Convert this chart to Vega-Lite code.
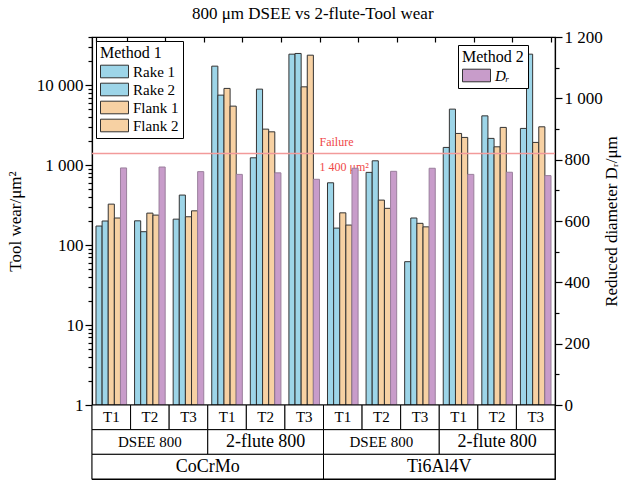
{
  "$schema": "https://vega.github.io/schema/vega-lite/v6.json",
  "padding": {"left": 5, "right": 5, "top": 5, "bottom": 0},
  "config": {
    "font": "Liberation Serif",
    "view": {"stroke": "black", "strokeWidth": 1.2},
    "axis": {"labelFont": "Liberation Serif", "titleFont": "Liberation Serif", "labelFontSize": 17, "titleFontSize": 17, "titleFontWeight": "normal", "labelColor": "black", "titleColor": "black", "domainColor": "black", "tickColor": "black", "grid": false, "domainWidth": 1.2, "tickWidth": 1.2},
    "legend": {"strokeColor": "black", "fillColor": "white", "padding": 4, "titleFontSize": 16, "labelFontSize": 15, "titleFont": "Liberation Serif", "labelFont": "Liberation Serif", "titleFontWeight": "normal", "titleColor": "black", "labelColor": "black", "symbolType": "M-1,-0.9L3,-0.9L3,0.9L-1,0.9Z", "symbolSize": 196, "labelOffset": 18, "symbolStrokeColor": "#333", "symbolStrokeWidth": 1, "symbolOpacity": 1, "rowPadding": 1, "titlePadding": 3}
  },
  "title": {"text": "800 μm DSEE vs 2-flute-Tool wear", "fontSize": 17, "fontWeight": "normal", "font": "Liberation Serif", "anchor": "middle", "offset": 4, "color": "black"},
  "datasets": {
    "bars": [
      {"group": "CoCrMo|DSEE 800|T1", "series": "Rake 1", "value": 173},
      {"group": "CoCrMo|DSEE 800|T1", "series": "Rake 2", "value": 200},
      {"group": "CoCrMo|DSEE 800|T1", "series": "Flank 1", "value": 325},
      {"group": "CoCrMo|DSEE 800|T1", "series": "Flank 2", "value": 218},
      {"group": "CoCrMo|DSEE 800|T1", "series": "Dᵣ", "value": 773},
      {"group": "CoCrMo|DSEE 800|T2", "series": "Rake 1", "value": 201},
      {"group": "CoCrMo|DSEE 800|T2", "series": "Rake 2", "value": 147},
      {"group": "CoCrMo|DSEE 800|T2", "series": "Flank 1", "value": 251},
      {"group": "CoCrMo|DSEE 800|T2", "series": "Flank 2", "value": 237},
      {"group": "CoCrMo|DSEE 800|T2", "series": "Dᵣ", "value": 776},
      {"group": "CoCrMo|DSEE 800|T3", "series": "Rake 1", "value": 211},
      {"group": "CoCrMo|DSEE 800|T3", "series": "Rake 2", "value": 422},
      {"group": "CoCrMo|DSEE 800|T3", "series": "Flank 1", "value": 226},
      {"group": "CoCrMo|DSEE 800|T3", "series": "Flank 2", "value": 268},
      {"group": "CoCrMo|DSEE 800|T3", "series": "Dᵣ", "value": 761},
      {"group": "CoCrMo|2-flute 800|T1", "series": "Rake 1", "value": 17280},
      {"group": "CoCrMo|2-flute 800|T1", "series": "Rake 2", "value": 7500},
      {"group": "CoCrMo|2-flute 800|T1", "series": "Flank 1", "value": 9100},
      {"group": "CoCrMo|2-flute 800|T1", "series": "Flank 2", "value": 5465},
      {"group": "CoCrMo|2-flute 800|T1", "series": "Dᵣ", "value": 752},
      {"group": "CoCrMo|2-flute 800|T2", "series": "Rake 1", "value": 1234},
      {"group": "CoCrMo|2-flute 800|T2", "series": "Rake 2", "value": 8913},
      {"group": "CoCrMo|2-flute 800|T2", "series": "Flank 1", "value": 2818},
      {"group": "CoCrMo|2-flute 800|T2", "series": "Flank 2", "value": 2608},
      {"group": "CoCrMo|2-flute 800|T2", "series": "Dᵣ", "value": 757},
      {"group": "CoCrMo|2-flute 800|T3", "series": "Rake 1", "value": 24400},
      {"group": "CoCrMo|2-flute 800|T3", "series": "Rake 2", "value": 24900},
      {"group": "CoCrMo|2-flute 800|T3", "series": "Flank 1", "value": 9525},
      {"group": "CoCrMo|2-flute 800|T3", "series": "Flank 2", "value": 23700},
      {"group": "CoCrMo|2-flute 800|T3", "series": "Dᵣ", "value": 736},
      {"group": "Ti6Al4V|DSEE 800|T1", "series": "Rake 1", "value": 601},
      {"group": "Ti6Al4V|DSEE 800|T1", "series": "Rake 2", "value": 163},
      {"group": "Ti6Al4V|DSEE 800|T1", "series": "Flank 1", "value": 253},
      {"group": "Ti6Al4V|DSEE 800|T1", "series": "Flank 2", "value": 178},
      {"group": "Ti6Al4V|DSEE 800|T1", "series": "Dᵣ", "value": 772},
      {"group": "Ti6Al4V|DSEE 800|T2", "series": "Rake 1", "value": 811},
      {"group": "Ti6Al4V|DSEE 800|T2", "series": "Rake 2", "value": 1132},
      {"group": "Ti6Al4V|DSEE 800|T2", "series": "Flank 1", "value": 365},
      {"group": "Ti6Al4V|DSEE 800|T2", "series": "Flank 2", "value": 288},
      {"group": "Ti6Al4V|DSEE 800|T2", "series": "Dᵣ", "value": 762},
      {"group": "Ti6Al4V|DSEE 800|T3", "series": "Rake 1", "value": 62},
      {"group": "Ti6Al4V|DSEE 800|T3", "series": "Rake 2", "value": 218},
      {"group": "Ti6Al4V|DSEE 800|T3", "series": "Flank 1", "value": 187},
      {"group": "Ti6Al4V|DSEE 800|T3", "series": "Flank 2", "value": 169},
      {"group": "Ti6Al4V|DSEE 800|T3", "series": "Dᵣ", "value": 772},
      {"group": "Ti6Al4V|2-flute 800|T1", "series": "Rake 1", "value": 1664},
      {"group": "Ti6Al4V|2-flute 800|T1", "series": "Rake 2", "value": 5012},
      {"group": "Ti6Al4V|2-flute 800|T1", "series": "Flank 1", "value": 2489},
      {"group": "Ti6Al4V|2-flute 800|T1", "series": "Flank 2", "value": 2219},
      {"group": "Ti6Al4V|2-flute 800|T1", "series": "Dᵣ", "value": 752},
      {"group": "Ti6Al4V|2-flute 800|T2", "series": "Rake 1", "value": 4130},
      {"group": "Ti6Al4V|2-flute 800|T2", "series": "Rake 2", "value": 2158},
      {"group": "Ti6Al4V|2-flute 800|T2", "series": "Flank 1", "value": 1694},
      {"group": "Ti6Al4V|2-flute 800|T2", "series": "Flank 2", "value": 2960},
      {"group": "Ti6Al4V|2-flute 800|T2", "series": "Dᵣ", "value": 759},
      {"group": "Ti6Al4V|2-flute 800|T3", "series": "Rake 1", "value": 2877},
      {"group": "Ti6Al4V|2-flute 800|T3", "series": "Rake 2", "value": 24400},
      {"group": "Ti6Al4V|2-flute 800|T3", "series": "Flank 1", "value": 1922},
      {"group": "Ti6Al4V|2-flute 800|T3", "series": "Flank 2", "value": 3013},
      {"group": "Ti6Al4V|2-flute 800|T3", "series": "Dᵣ", "value": 748}
    ],
    "table": [
      {"level": "Tool", "label": "T1", "start": 0, "end": 1},
      {"level": "Tool", "label": "T2", "start": 1, "end": 2},
      {"level": "Tool", "label": "T3", "start": 2, "end": 3},
      {"level": "Tool", "label": "T1", "start": 3, "end": 4},
      {"level": "Tool", "label": "T2", "start": 4, "end": 5},
      {"level": "Tool", "label": "T3", "start": 5, "end": 6},
      {"level": "Tool", "label": "T1", "start": 6, "end": 7},
      {"level": "Tool", "label": "T2", "start": 7, "end": 8},
      {"level": "Tool", "label": "T3", "start": 8, "end": 9},
      {"level": "Tool", "label": "T1", "start": 9, "end": 10},
      {"level": "Tool", "label": "T2", "start": 10, "end": 11},
      {"level": "Tool", "label": "T3", "start": 11, "end": 12},
      {"level": "Process", "label": "DSEE 800", "start": 0, "end": 3},
      {"level": "Process", "label": "2-flute 800", "start": 3, "end": 6},
      {"level": "Process", "label": "DSEE 800", "start": 6, "end": 9},
      {"level": "Process", "label": "2-flute 800", "start": 9, "end": 12},
      {"level": "Material", "label": "CoCrMo", "start": 0, "end": 6},
      {"level": "Material", "label": "Ti6Al4V", "start": 6, "end": 12}
    ],
    "failure": [{"limit": 1400}]
  },
  "spacing": 0,
  "bounds": "flush",
  "vconcat": [
    {
      "width": 463,
      "height": 368,
      "resolve": {"scale": {"y": "independent", "color": "independent"}, "legend": {"color": "independent"}},
      "layer": [
        {
          "layer": [
            {
              "data": {"name": "bars"},
              "transform": [{"filter": "datum.series !== 'Dᵣ'"}],
              "mark": {"type": "bar", "stroke": "#333", "strokeWidth": 1},
              "encoding": {
                "x": {"field": "group", "type": "nominal", "scale": {"domain": ["CoCrMo|DSEE 800|T1", "CoCrMo|DSEE 800|T2", "CoCrMo|DSEE 800|T3", "CoCrMo|2-flute 800|T1", "CoCrMo|2-flute 800|T2", "CoCrMo|2-flute 800|T3", "Ti6Al4V|DSEE 800|T1", "Ti6Al4V|DSEE 800|T2", "Ti6Al4V|DSEE 800|T3", "Ti6Al4V|2-flute 800|T1", "Ti6Al4V|2-flute 800|T2", "Ti6Al4V|2-flute 800|T3"], "paddingInner": 0.207, "paddingOuter": 0.1035}, "axis": {"orient": "top", "title": null, "labels": false, "domain": false, "ticks": true, "tickSize": -5, "tickBand": "extent"}},
                "xOffset": {"field": "series", "type": "nominal", "scale": {"domain": ["Rake 1", "Rake 2", "Flank 1", "Flank 2", "Dᵣ"], "paddingInner": 0, "paddingOuter": 0}},
                "y": {"field": "value", "type": "quantitative", "scale": {"type": "log", "domain": [1, 40000], "nice": false}, "axis": {"title": "Tool wear/μm²", "titlePadding": 12, "values": [1, 2, 3, 4, 5, 6, 7, 8, 9, 10, 20, 30, 40, 50, 60, 70, 80, 90, 100, 200, 300, 400, 500, 600, 700, 800, 900, 1000, 2000, 3000, 4000, 5000, 6000, 7000, 8000, 9000, 10000, 20000, 30000, 40000], "labelExpr": "indexof([1, 10, 100, 1000, 10000], datum.value) >= 0 ? replace(format(datum.value, ','), ',', ' ') : ''", "tickSize": {"condition": {"test": "indexof([1, 10, 100, 1000, 10000], datum.value) >= 0", "value": 7}, "value": 4}, "labelPadding": 2}},
                "y2": {"datum": 1},
                "color": {"field": "series", "type": "nominal", "scale": {"domain": ["Rake 1", "Rake 2", "Flank 1", "Flank 2"], "range": ["#9dd5e8", "#9dd5e8", "#f7d1a3", "#f7d1a3"]}, "legend": {"title": "Method 1", "orient": "top-left", "offset": 4}}
              }
            },
            {
              "data": {"name": "failure"},
              "mark": {"type": "rule", "color": "#f29a9a", "strokeWidth": 1.5},
              "encoding": {"y": {"field": "limit", "type": "quantitative"}}
            },
            {
              "data": {"name": "failure"},
              "mark": {"type": "text", "color": "#f04848", "fontSize": 12, "align": "left", "dx": -8, "dy": -11, "font": "Liberation Serif"},
              "encoding": {"x": {"datum": "Ti6Al4V|DSEE 800|T1", "type": "nominal", "bandPosition": 0}, "y": {"field": "limit", "type": "quantitative"}, "text": {"value": "Failure"}}
            },
            {
              "data": {"name": "failure"},
              "mark": {"type": "text", "color": "#f04848", "fontSize": 12, "align": "left", "dx": -8, "dy": 14, "font": "Liberation Serif"},
              "encoding": {"x": {"datum": "Ti6Al4V|DSEE 800|T1", "type": "nominal", "bandPosition": 0}, "y": {"field": "limit", "type": "quantitative"}, "text": {"value": "1 400 μm²"}}
            }
          ]
        },
        {
          "data": {"name": "bars"},
          "transform": [{"filter": "datum.series === 'Dᵣ'"}],
          "mark": {"type": "bar", "stroke": "#9a7f9c", "strokeWidth": 1},
          "encoding": {
            "x": {"field": "group", "type": "nominal", "axis": {"orient": "top", "title": null, "labels": false, "domain": false, "ticks": true, "tickSize": -5, "tickBand": "extent"}},
            "xOffset": {"field": "series", "type": "nominal"},
            "y": {"field": "value", "type": "quantitative", "scale": {"domain": [0, 1200], "nice": false}, "axis": {"orient": "right", "title": "Reduced diameter Dᵣ/μm", "titleAngle": 270, "titlePadding": 18, "values": [0, 100, 200, 300, 400, 500, 600, 700, 800, 900, 1000, 1100, 1200], "labelExpr": "datum.value % 200 == 0 ? replace(format(datum.value, ','), ',', ' ') : ''", "tickSize": {"condition": {"test": "datum.value % 200 == 0", "value": 7}, "value": 4}, "labelPadding": 2}},
            "color": {"field": "series", "type": "nominal", "scale": {"domain": ["Dᵣ"], "range": ["#c89cca"]}, "legend": {"title": "Method 2", "orient": "none", "legendX": 366, "legendY": 8, "labelFontStyle": "italic"}}
          }
        }
      ]
    },
    {
      "width": 463,
      "height": 74,
      "data": {"name": "table"},
      "transform": [{"calculate": "(datum.start + datum.end) / 2", "as": "mid"}],
      "encoding": {
        "y": {"field": "level", "type": "ordinal", "scale": {"domain": ["Tool", "Process", "Material"], "paddingInner": 0, "paddingOuter": 0}, "axis": null}
      },
      "layer": [
        {
          "mark": {"type": "rect", "fill": "white", "stroke": "black", "strokeWidth": 1},
          "encoding": {"x": {"field": "start", "type": "quantitative", "scale": {"domain": [0, 12], "nice": false, "zero": false}, "axis": null}, "x2": {"field": "end"}}
        },
        {
          "mark": {"type": "text", "font": "Liberation Serif", "color": "black"},
          "encoding": {
            "x": {"field": "mid", "type": "quantitative"},
            "text": {"field": "label"},
            "size": {"condition": {"test": "datum.level === 'Tool' || datum.label === 'DSEE 800'", "value": 15}, "value": 18}
          }
        }
      ]
    }
  ]
}
